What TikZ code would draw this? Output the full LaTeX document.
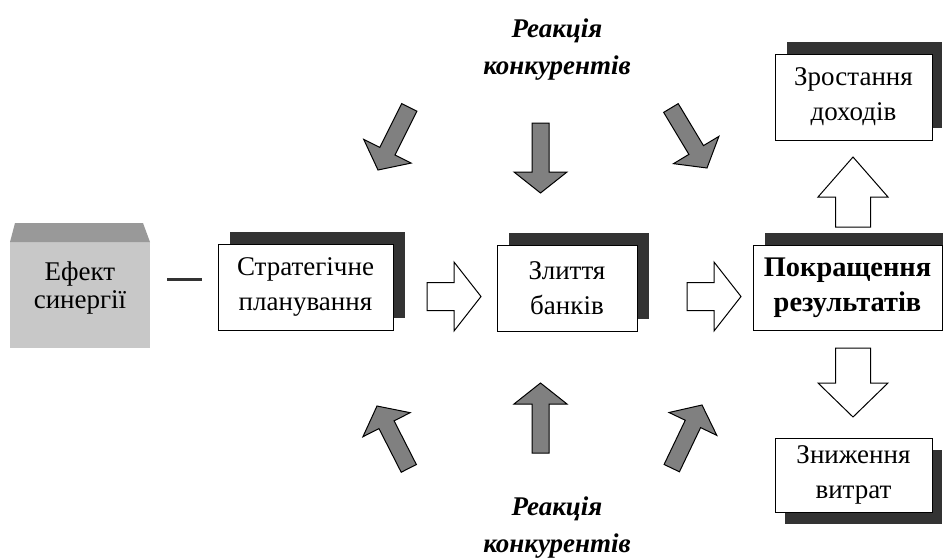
\documentclass[tikz,border=0pt]{standalone}
\usepackage{fontspec}
\setmainfont{Liberation Serif}
\newlength{\du}
\setlength{\du}{0.5pt}
\definecolor{shadowcolor}{rgb}{0.200000, 0.200000, 0.200000}
\definecolor{arrowgray}{rgb}{0.500000, 0.500000, 0.500000}
\definecolor{effectfront}{rgb}{0.784000, 0.784000, 0.784000}
\definecolor{effecttop}{rgb}{0.600000, 0.600000, 0.600000}
\tikzset{
  textbox/.style={draw=black, fill=white, line width=1\du, inner sep=0pt, align=center,
    font=\fontsize{13.5}{17.5}\selectfont},
  reaction/.style={inner sep=0pt, align=center, font=\fontsize{13.5}{18.5}\selectfont\bfseries\itshape},
  whitearrow/.style={draw=black, fill=white, line width=1\du, line join=miter},
  grayarrow/.style={draw=black, fill=arrowgray, line width=1\du, line join=miter},
}

\begin{document}
\begin{tikzpicture}[even odd rule]
\pgftransformxscale{1.000000}
\pgftransformyscale{-1.000000}
\useasboundingbox (0\du,0\du) rectangle (943\du,558\du);
% effect box
\node[fill=effectfront, inner sep=0pt, minimum width=140\du, minimum height=106\du] (effect) at (80\du,295\du) {};
\fill[effecttop] (15\du,223\du)--(143\du,223\du)--(150\du,242\du)--(10\du,242\du)--cycle;
\node[inner sep=0pt, align=center, font=\fontsize{13.5}{14}\selectfont] (effecttext) at (80\du,288\du) {Ефект\\синергії};
\draw[shadowcolor, line width=3\du] (167\du,279\du)--(202\du,279\du);
% shadows
\fill[shadowcolor] (230\du,232\du) rectangle (405\du,318\du);
\fill[shadowcolor] (509\du,233\du) rectangle (649\du,319\du);
\fill[shadowcolor] (765\du,233\du) rectangle (955\du,318\du);
\fill[shadowcolor] (787\du,42\du) rectangle (942\du,128\du);
\fill[shadowcolor] (785\du,450\du) rectangle (942\du,524\du);
% boxes
\node[textbox, minimum width=175\du, minimum height=86\du] (strat) at (305.5\du,287\du) {Стратегічне\\планування};
\node[textbox, minimum width=140\du, minimum height=86\du] (merge) at (567\du,288\du) {Злиття\\банків};
\node[textbox, minimum width=189\du, minimum height=85\du, font=\fontsize{14.2}{17.5}\selectfont\bfseries] (result) at (847.5\du,287.5\du) {Покращення\\результатів};
\node[textbox, minimum width=157\du, minimum height=86\du] (income) at (853.5\du,97\du) {Зростання\\доходів};
\node[textbox, minimum width=157\du, minimum height=74\du] (costs) at (853.5\du,475\du) {Зниження\\витрат};
% white arrows
\draw[whitearrow] (427\du,282.5\du)--(454\du,282.5\du)--(454\du,262\du)--(481\du,296.5\du)--(454\du,331\du)--(454\du,310.5\du)--(427\du,310.5\du)--cycle;
\draw[whitearrow] (687\du,282.5\du)--(714\du,282.5\du)--(714\du,262\du)--(741\du,296.5\du)--(714\du,331\du)--(714\du,310.5\du)--(687\du,310.5\du)--cycle;
\draw[whitearrow] (853\du,157\du)--(888\du,197\du)--(870.5\du,197\du)--(870.5\du,227\du)--(835.5\du,227\du)--(835.5\du,197\du)--(818\du,197\du)--cycle;
\draw[whitearrow] (853\du,417\du)--(888\du,383\du)--(870.5\du,383\du)--(870.5\du,348\du)--(835.5\du,348\du)--(835.5\du,383\du)--(818\du,383\du)--cycle;
% gray arrows, top
\foreach \tipx/\tipy/\ang in {378/170/26.6, 540.5/193/0, 707/168/-31}{
{\pgftransformshift{\pgfpoint{\tipx\du}{\tipy\du}}\pgftransformrotate{\ang}
\draw[grayarrow] (0\du,0\du)--(26.5\du,-21\du)--(8.5\du,-21\du)--(8.5\du,-70\du)--(-8.5\du,-70\du)--(-8.5\du,-21\du)--(-26.5\du,-21\du)--cycle;
}}
% gray arrows, bottom
\foreach \tipx/\tipy/\ang in {377/406/-27, 540.5/383/0, 702/405/25.6}{
{\pgftransformshift{\pgfpoint{\tipx\du}{\tipy\du}}\pgftransformrotate{\ang}
\draw[grayarrow] (0\du,0\du)--(26.5\du,21\du)--(8.5\du,21\du)--(8.5\du,70\du)--(-8.5\du,70\du)--(-8.5\du,21\du)--(-26.5\du,21\du)--cycle;
}}
% labels
\node[reaction, anchor=base] (reacttop) at (557\du,74\du) {Реакція\\конкурентів};
\node[reaction, anchor=base] (reactbottom) at (557\du,552\du) {Реакція\\конкурентів};
\end{tikzpicture}
\end{document}
